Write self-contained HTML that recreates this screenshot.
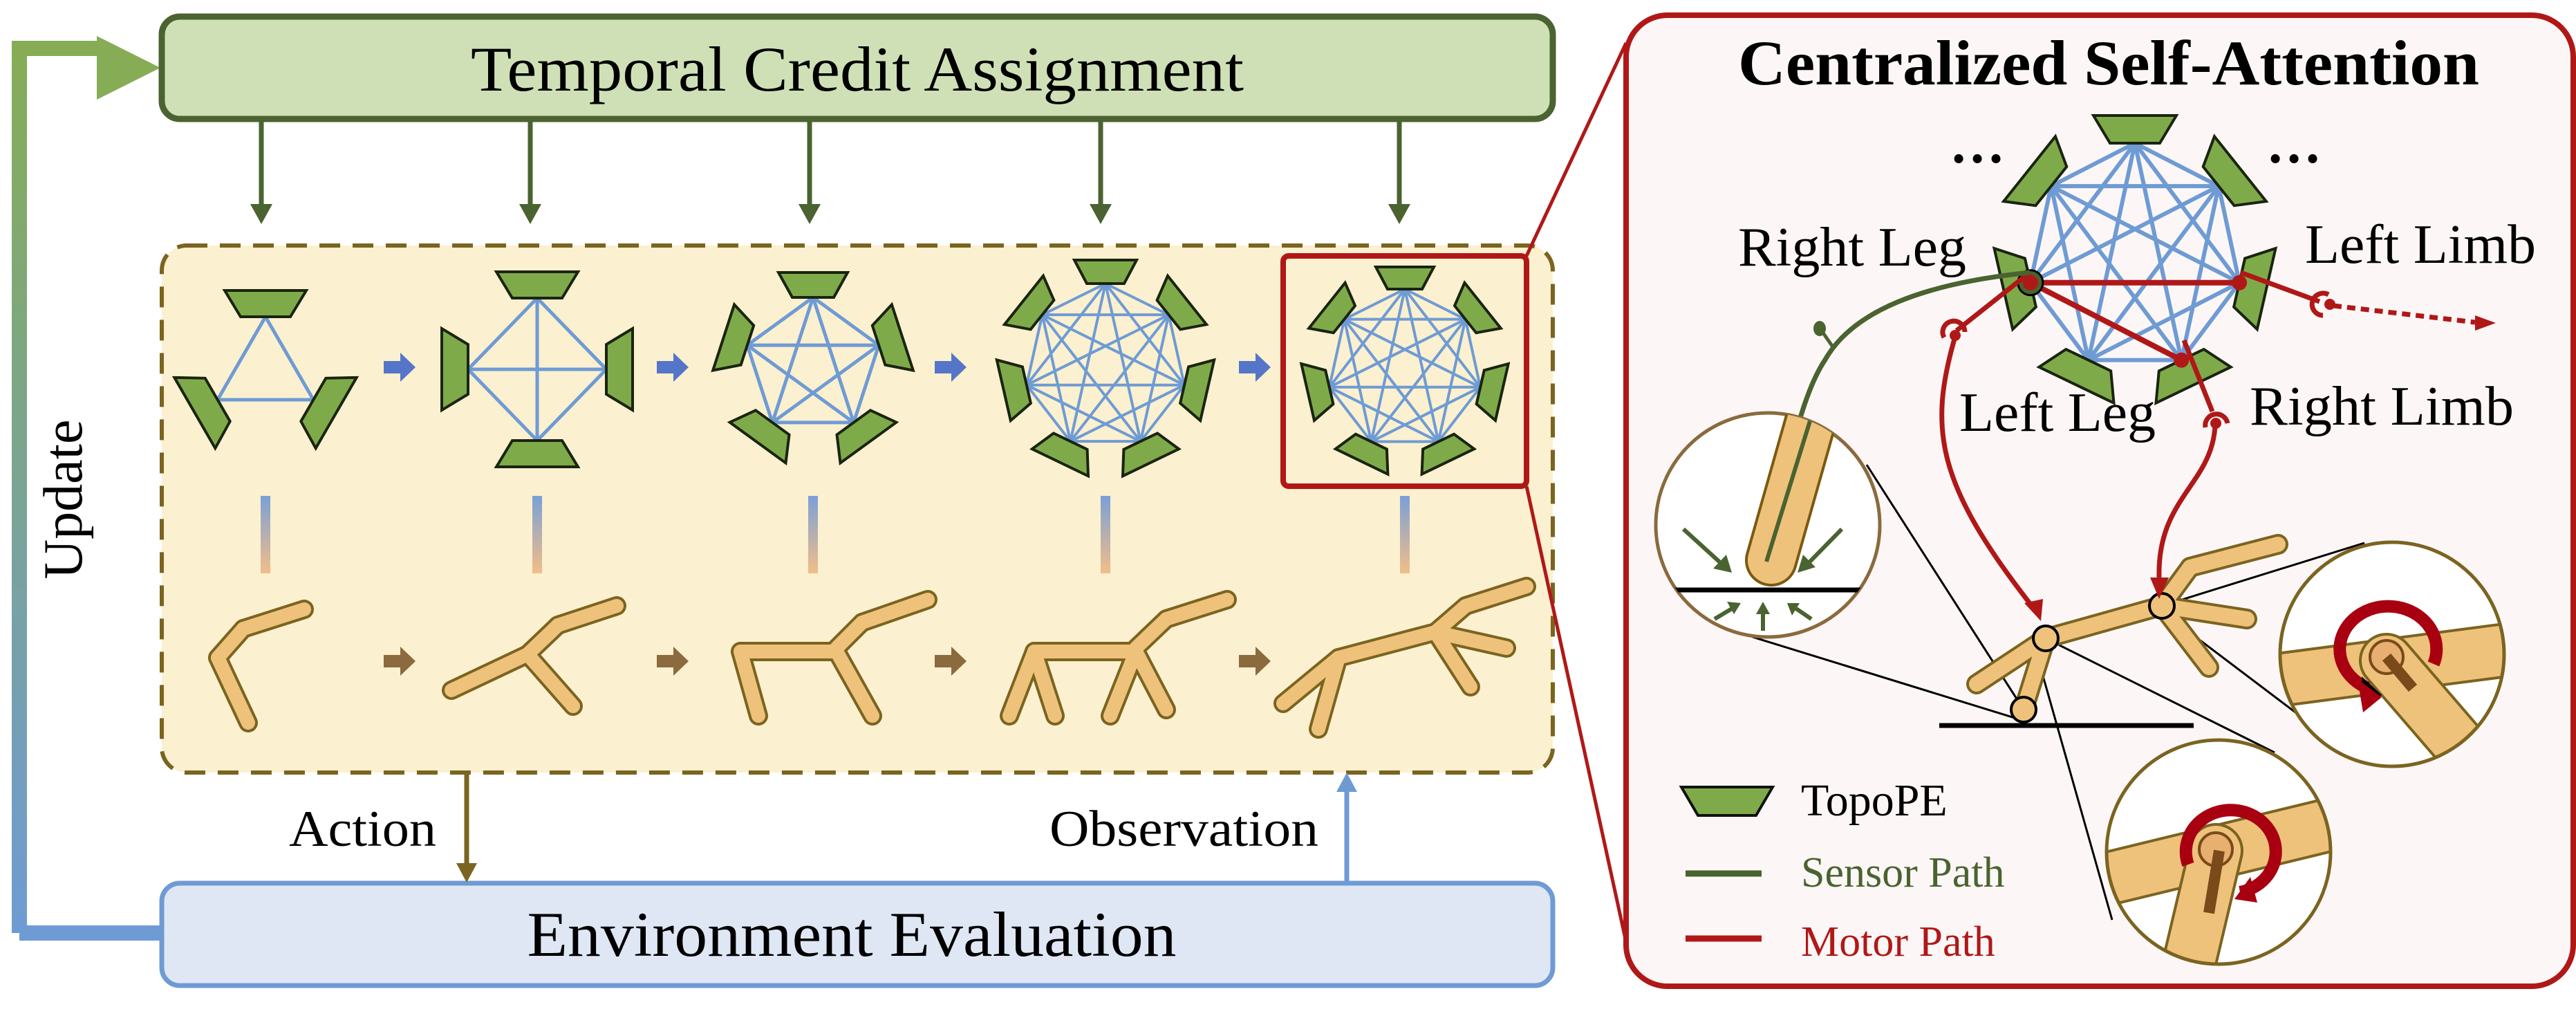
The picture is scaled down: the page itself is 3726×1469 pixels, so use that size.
<!DOCTYPE html>
<html><head><meta charset="utf-8"><style>
html,body{margin:0;padding:0;background:#fff;}
svg{display:block;}
text{font-family:"Liberation Serif",serif;}
</style></head><body>
<svg id="s" xmlns="http://www.w3.org/2000/svg" width="3726" height="1469" viewBox="0 0 3726 1469">
<defs>
<linearGradient id="upd" x1="0" y1="0" x2="0" y2="1"><stop offset="0" stop-color="#86ad55"/><stop offset="1" stop-color="#6f9bd4"/></linearGradient>
<linearGradient id="bar" x1="0" y1="0" x2="0" y2="1"><stop offset="0" stop-color="#7aa0d8"/><stop offset="1" stop-color="#f2be88"/></linearGradient>
<clipPath id="c1"><circle cx="2557" cy="759" r="162"/></clipPath>
<clipPath id="c2"><circle cx="3460" cy="946" r="162"/></clipPath>
<clipPath id="c3"><circle cx="3209" cy="1232" r="162"/></clipPath>
<marker id="ag" markerWidth="6" markerHeight="6" refX="5" refY="3" orient="auto" markerUnits="strokeWidth"><path d="M0,0 L6,3 L0,6 z" fill="#4a6330"/></marker>
</defs>

<!-- Update loop -->
<path d="M28,1349 L28,70 L150,70" fill="none" stroke="url(#upd)" stroke-width="22"/>
<path d="M28,1349 L232,1349" stroke="#6f9bd4" stroke-width="22"/>
<polygon points="140,52 232,98 140,144" fill="#86ad55"/>
<path d="M140,70 L232,98" stroke="none"/>
<text transform="translate(118,722) rotate(-90)" font-size="80" text-anchor="middle">Update</text>

<!-- Top box -->
<rect x="234" y="24" width="2012" height="148" rx="26" fill="#cfe0b6" stroke="#4a6330" stroke-width="9"/>
<text x="1240" y="131" font-size="92" text-anchor="middle" textLength="1118" lengthAdjust="spacingAndGlyphs">Temporal Credit Assignment</text>

<!-- Down arrows -->
<g stroke="#4a6330" stroke-width="7" fill="#4a6330">
<line x1="378" y1="175" x2="378" y2="300"/><polygon points="362,295 394,295 378,324" stroke="none"/>
<line x1="767" y1="175" x2="767" y2="300"/><polygon points="751,295 783,295 767,324" stroke="none"/>
<line x1="1171" y1="175" x2="1171" y2="300"/><polygon points="1155,295 1187,295 1171,324" stroke="none"/>
<line x1="1592" y1="175" x2="1592" y2="300"/><polygon points="1576,295 1608,295 1592,324" stroke="none"/>
<line x1="2024" y1="175" x2="2024" y2="300"/><polygon points="2008,295 2040,295 2024,324" stroke="none"/>
</g>

<!-- Dashed box -->
<rect x="234" y="355" width="2012" height="762" rx="36" fill="#fbf0cf" stroke="#7a6420" stroke-width="6" stroke-dasharray="30,18"/>

<!-- Bottom box -->
<rect x="234" y="1277" width="2012" height="148" rx="26" fill="#dfe7f5" stroke="#6f9bd4" stroke-width="7"/>
<text x="1232" y="1382" font-size="92" text-anchor="middle" textLength="939" lengthAdjust="spacingAndGlyphs">Environment Evaluation</text>

<!-- Action / Observation -->
<line x1="675" y1="1117" x2="675" y2="1250" stroke="#7a6420" stroke-width="7"/>
<polygon points="660,1248 690,1248 675,1276" fill="#7a6420"/>
<text x="631" y="1223" font-size="74" text-anchor="end" textLength="213" lengthAdjust="spacingAndGlyphs">Action</text>
<line x1="1948" y1="1277" x2="1948" y2="1140" stroke="#6f9bd4" stroke-width="7"/>
<polygon points="1933,1145 1963,1145 1948,1117" fill="#6f9bd4"/>
<text x="1907" y="1223" font-size="74" text-anchor="end" textLength="389" lengthAdjust="spacingAndGlyphs">Observation</text>

<!-- gradient bars -->
<g fill="url(#bar)">
<rect x="377" y="717" width="14" height="112"/><rect x="770" y="717" width="14" height="112"/>
<rect x="1169" y="717" width="14" height="112"/><rect x="1592" y="717" width="14" height="112"/>
<rect x="2025" y="717" width="14" height="112"/>
</g>

<!-- step arrows -->
<g fill="#5576c8">
<path d="M555,522 h24 v-12 l22,21 l-22,21 v-12 h-24z"/>
<path d="M950,522 h24 v-12 l22,21 l-22,21 v-12 h-24z"/>
<path d="M1352,522 h24 v-12 l22,21 l-22,21 v-12 h-24z"/>
<path d="M1792,522 h24 v-12 l22,21 l-22,21 v-12 h-24z"/>
</g>
<g fill="#8a6a3e">
<path d="M555,947 h24 v-12 l22,21 l-22,21 v-12 h-24z"/>
<path d="M950,947 h24 v-12 l22,21 l-22,21 v-12 h-24z"/>
<path d="M1352,947 h24 v-12 l22,21 l-22,21 v-12 h-24z"/>
<path d="M1792,947 h24 v-12 l22,21 l-22,21 v-12 h-24z"/>
</g>

<g id="graphs"></g>
<g id="robots"></g>

<!-- red highlight box + zoom lines -->
<rect x="1856" y="370" width="352" height="333" rx="8" fill="none" stroke="#b01818" stroke-width="8"/>
<line x1="2208" y1="370" x2="2352" y2="62" stroke="#b01818" stroke-width="5"/>
<line x1="2208" y1="703" x2="2352" y2="1362" stroke="#b01818" stroke-width="5"/>

<!-- Right panel -->
<rect x="2352" y="22" width="1370" height="1404" rx="60" fill="#fcf7f6" stroke="#b01818" stroke-width="8"/>
<text x="3050" y="122" font-size="92" font-weight="bold" text-anchor="middle" textLength="1072" lengthAdjust="spacingAndGlyphs">Centralized Self-Attention</text>
<text x="2860" y="235" font-size="80" font-weight="bold" text-anchor="middle">…</text>
<text x="3318" y="235" font-size="80" font-weight="bold" text-anchor="middle">…</text>
<text x="2514" y="384" font-size="80" textLength="330" lengthAdjust="spacingAndGlyphs">Right Leg</text>
<text x="3334" y="380" font-size="80" textLength="334" lengthAdjust="spacingAndGlyphs">Left Limb</text>
<text x="2834" y="623" font-size="80" textLength="284" lengthAdjust="spacingAndGlyphs">Left Leg</text>
<text x="3254" y="614" font-size="80" textLength="382" lengthAdjust="spacingAndGlyphs">Right Limb</text>

<g id="rgraph"></g>

<!-- connector lines (thin black) -->
<g stroke="#000" stroke-width="3" fill="none">
<line x1="2700" y1="672" x2="2927" y2="1026"/>
<line x1="2535" y1="921" x2="2927" y2="1042"/>
<line x1="2959" y1="923" x2="3290" y2="1088"/>
<line x1="2943" y1="935" x2="3055" y2="1330"/>
<line x1="3127" y1="876" x2="3420" y2="785"/>
<line x1="3135" y1="890" x2="3340" y2="1045"/>
</g>

<!-- bottom robot right panel -->
<g id="rrobot"></g>
<line x1="2805" y1="1049" x2="3173" y2="1049" stroke="#000" stroke-width="7"/>

<!-- red motor paths -->
<g fill="none" stroke="#b01818" stroke-width="7">
<path d="M2936,394 L2830,478"/>
<path d="M2827,490 C2790,620 2800,700 2942,880"/>
<path d="M3159,492 L3200,595"/>
<path d="M3204,615 C3200,700 3120,720 3123,835"/>
<path d="M3241,394 L3355,436"/>
<path d="M3375,442 L3580,466" stroke-dasharray="12,8"/>
<path d="M2812,488 a16,16 0 1,1 30,-8"/>
<path d="M3190,618 a16,16 0 1,1 32,-6"/>
<path d="M3360,456 a16,16 0 1,1 8,-30"/>
</g>
<g fill="#b01818">
<circle cx="2828" cy="485" r="8"/><circle cx="3205" cy="612" r="8"/><circle cx="3370" cy="440" r="8"/>
<polygon points="2928,872 2955,866 2952,898"/>
<polygon points="3110,835 3137,835 3123,866"/>
<polygon points="3580,456 3610,467 3580,478"/>
</g>
<!-- green sensor path -->
<path d="M2936,394 C2780,410 2680,450 2640,520 C2600,580 2580,700 2562,810" fill="none" stroke="#4a6330" stroke-width="7"/>
<line x1="2650" y1="500" x2="2636" y2="480" stroke="#4a6330" stroke-width="5"/>
<ellipse cx="2632" cy="475" rx="9" ry="11" fill="#4a6330"/>

<!-- zoom circle left -->
<circle cx="2557" cy="759" r="162" fill="#fff" stroke="#8a6a3e" stroke-width="5"/>
<g clip-path="url(#c1)">
<line x1="2630" y1="570" x2="2562" y2="810" stroke="#7a5a10" stroke-width="76" stroke-linecap="round"/>
<line x1="2630" y1="570" x2="2562" y2="810" stroke="#efc27c" stroke-width="68" stroke-linecap="round"/>
<line x1="2630" y1="570" x2="2555" y2="812" stroke="#4a6330" stroke-width="6"/>
<line x1="2370" y1="853" x2="2750" y2="853" stroke="#000" stroke-width="7"/>
</g>
<g stroke="#4a6330" stroke-width="6" fill="#4a6330">
<line x1="2435" y1="765" x2="2490" y2="815"/><polygon points="2505,828 2478,822 2497,802" stroke="none"/>
<line x1="2664" y1="765" x2="2615" y2="815"/><polygon points="2600,828 2608,802 2626,820" stroke="none"/>
<line x1="2480" y1="895" x2="2505" y2="880"/><polygon points="2518,872 2498,870 2508,888" stroke="none"/>
<line x1="2550" y1="912" x2="2550" y2="885"/><polygon points="2550,870 2540,888 2560,888" stroke="none"/>
<line x1="2620" y1="895" x2="2598" y2="880"/><polygon points="2585,872 2592,890 2603,872" stroke="none"/>
</g>

<!-- zoom circle upper right -->
<circle cx="3460" cy="946" r="162" fill="#fff"/>
<g clip-path="url(#c2)">
<line x1="3280" y1="985" x2="3640" y2="938" stroke="#7a6420" stroke-width="80"/>
<line x1="3280" y1="985" x2="3640" y2="938" stroke="#efc27c" stroke-width="72"/>
<line x1="3452" y1="955" x2="3590" y2="1115" stroke="#7a6420" stroke-width="80" stroke-linecap="round"/>
<line x1="3452" y1="955" x2="3590" y2="1115" stroke="#efc27c" stroke-width="72" stroke-linecap="round"/>
<circle cx="3452" cy="950" r="24" fill="#e8b070" stroke="#7a4a1a" stroke-width="4"/>
<line x1="3452" y1="950" x2="3490" y2="995" stroke="#7a4a1a" stroke-width="16"/>
<path d="M3520,960 A70,62 0 1,0 3425,995" fill="none" stroke="#a80010" stroke-width="18"/>
<polygon points="3416,978 3445,1005 3420,1025"/>
</g>
<polygon points="3410,982 3445,1008 3418,1030" fill="#a80010"/>
<circle cx="3460" cy="946" r="162" fill="none" stroke="#7a6420" stroke-width="5"/>

<!-- zoom circle lower -->
<circle cx="3209" cy="1232" r="162" fill="#fff"/>
<g clip-path="url(#c3)">
<line x1="3050" y1="1270" x2="3380" y2="1190" stroke="#7a6420" stroke-width="80"/>
<line x1="3050" y1="1270" x2="3380" y2="1190" stroke="#efc27c" stroke-width="72"/>
<line x1="3205" y1="1230" x2="3160" y2="1420" stroke="#7a6420" stroke-width="80" stroke-linecap="round"/>
<line x1="3205" y1="1230" x2="3160" y2="1420" stroke="#efc27c" stroke-width="72" stroke-linecap="round"/>
<circle cx="3205" cy="1228" r="24" fill="#e8b070" stroke="#7a4a1a" stroke-width="4"/>
<line x1="3210" y1="1230" x2="3195" y2="1320" stroke="#7a4a1a" stroke-width="16"/>
<path d="M3165,1250 A65,60 0 1,1 3240,1290" fill="none" stroke="#a80010" stroke-width="18"/>
</g>
<polygon points="3255,1268 3232,1300 3265,1305" fill="#a80010"/>
<circle cx="3209" cy="1232" r="162" fill="none" stroke="#7a6420" stroke-width="5"/>

<!-- legend -->
<polygon points="2432,1138 2564,1138 2540,1179 2456,1179" fill="#7faa4a" stroke="#111" stroke-width="4"/>
<text x="2605" y="1179" font-size="66">TopoPE</text>
<line x1="2438" y1="1263" x2="2548" y2="1263" stroke="#4a6330" stroke-width="9"/>
<text x="2605" y="1282" font-size="62" fill="#4a6330">Sensor Path</text>
<line x1="2438" y1="1357" x2="2548" y2="1357" stroke="#b01818" stroke-width="9"/>
<text x="2605" y="1382" font-size="62" fill="#b01818">Motor Path</text>
</svg>
<script>
var NS="http://www.w3.org/2000/svg";
function el(p,t,a){var e=document.createElementNS(NS,t);for(var k in a)e.setAttribute(k,a[k]);p.appendChild(e);return e;}
function graph(parent,cx,cy,n,rx,ry,h,wo,wi,ew,redEdges){
  var g=document.getElementById(parent),pts=[];
  for(var i=0;i<n;i++){var a=-Math.PI/2+2*Math.PI*i/n;pts.push([cx+rx*Math.cos(a),cy+ry*Math.sin(a),a]);}
  for(var i=0;i<n;i++)for(var j=i+1;j<n;j++){
    el(g,'line',{x1:pts[i][0],y1:pts[i][1],x2:pts[j][0],y2:pts[j][1],stroke:'#6f9bd4','stroke-width':ew});}
  if(redEdges)redEdges.forEach(function(e){el(g,'line',{x1:pts[e[0]][0],y1:pts[e[0]][1],x2:pts[e[1]][0],y2:pts[e[1]][1],stroke:'#b01818','stroke-width':ew+2});});
  for(var i=0;i<n;i++){
    var a=pts[i][2],ux=Math.cos(a),uy=Math.sin(a),tx=-uy,ty=ux,x=pts[i][0],y=pts[i][1];
    var ox=x+ux*h,oy=y+uy*h;
    var p=[[ox+tx*wo/2,oy+ty*wo/2],[ox-tx*wo/2,oy-ty*wo/2],[x-tx*wi/2,y-ty*wi/2],[x+tx*wi/2,y+ty*wi/2]];
    el(g,'polygon',{points:p.map(function(q){return q[0].toFixed(1)+','+q[1].toFixed(1)}).join(' '),fill:'#7faa4a',stroke:'#1a2410','stroke-width':4});
  }
  return pts;
}
graph('graphs',384,538,3,80,80,38,118,72,5);
graph('graphs',777,534,4,100,103,38,118,72,5);
graph('graphs',1176,530,5,100,100,36,100,60,5);
graph('graphs',1599,530,7,117,120,34,90,54,4);
graph('graphs',2032,534,7,112,116,32,84,50,4);
var rp=graph('rgraph',3088,372,7,155,165,40,120,72,6,[[5,2],[5,3]]);
// overwrite so red edges match: left node idx5, right idx2, bottom-right idx3
var rg=document.getElementById('rgraph');
el(rg,'circle',{cx:rp[5][0],cy:rp[5][1],r:18,fill:'#4a6330',stroke:'#000','stroke-width':3});
[5,2,3].forEach(function(i){el(rg,'circle',{cx:rp[i][0],cy:rp[i][1],r:11,fill:'#b01818'});});
function limbs(parent,segs,w){
  var g=document.getElementById(parent);
  segs.forEach(function(s){el(g,'line',{x1:s[0],y1:s[1],x2:s[2],y2:s[3],stroke:'#7a6420','stroke-width':w+8,'stroke-linecap':'round'});});
  segs.forEach(function(s){el(g,'line',{x1:s[0],y1:s[1],x2:s[2],y2:s[3],stroke:'#efc27c','stroke-width':w,'stroke-linecap':'round'});});
}
limbs('robots',[[440,881,352,909],[352,909,315,951],[315,951,359,1045]],20);
limbs('robots',[[892,876,807,904],[807,904,763,946],[653,998,763,946],[763,946,829,1021]],20);
limbs('robots',[[1342,867,1247,900],[1247,900,1210,937],[1071,942,1210,942],[1071,942,1097,1035],[1210,942,1262,1035]],20);
limbs('robots',[[1775,867,1687,895],[1687,895,1643,937],[1496,942,1643,942],[1496,942,1460,1035],[1496,942,1526,1035],[1643,942,1606,1035],[1643,942,1687,1026]],20);
limbs('robots',[[2208,848,2120,876],[2120,876,2076,914],[1936,951,2076,914],[2076,914,2179,937],[2076,914,2127,993],[1936,951,1856,1017],[1936,951,1907,1054]],20);
limbs('rrobot',[[3295,787,3168,820],[3168,820,3127,876],[2959,923,3127,876],[3127,876,3250,895],[3127,876,3195,965],[2959,923,2859,989],[2959,923,2927,1026]],22);
var rr=document.getElementById('rrobot');
[[2959,923],[2927,1026],[3127,876]].forEach(function(c){el(rr,'circle',{cx:c[0],cy:c[1],r:18,fill:'#efc27c',stroke:'#000','stroke-width':4});});
</script>
</body></html>
